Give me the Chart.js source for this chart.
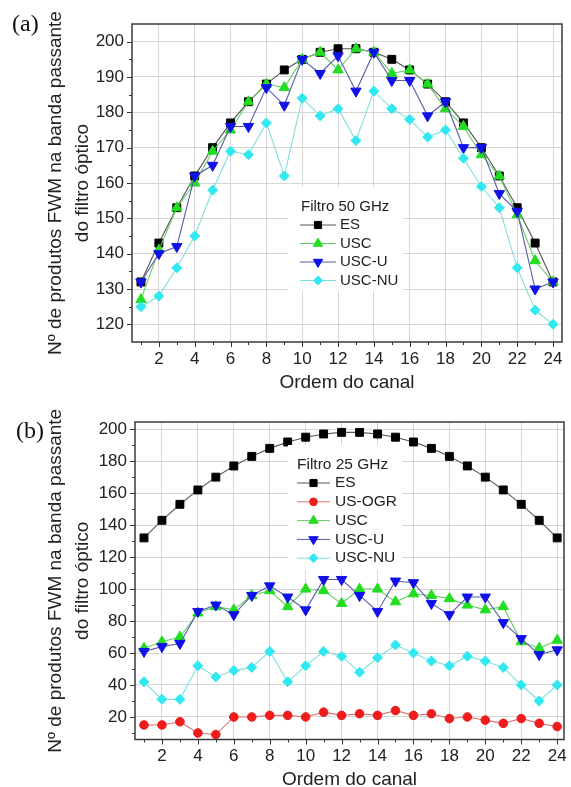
<!DOCTYPE html>
<html>
<head>
<meta charset="utf-8">
<script src="https://cdn.jsdelivr.net/npm/chart.js"></script>
<style>
  body { margin: 0; background: #fff; width: 571px; height: 787px; position: relative; overflow: hidden; }
  canvas { position: absolute; left: 0; }
  #chartA { top: 0; }
  #chartB { top: 400px; }
  .tag { position: absolute; font-family: "Liberation Serif", "Times New Roman", serif; font-size: 24px; color: #111; }
</style>
</head>
<body>
<canvas id="chartA" width="571" height="400"></canvas>
<canvas id="chartB" width="571" height="387"></canvas>
<div class="tag" style="left:12px;top:10px">(a)</div>
<div class="tag" style="left:16px;top:417px">(b)</div>
<script>
// Data
const channels = [1, 2, 3, 4, 5, 6, 7, 8, 9, 10, 11, 12, 13, 14, 15, 16, 17, 18, 19, 20, 21, 22, 23, 24];
const xTickLabels = [2, 4, 6, 8, 10, 12, 14, 16, 18, 20, 22, 24];
const yTicksA = [120, 130, 140, 150, 160, 170, 180, 190, 200];
const yTicksB = [20, 40, 60, 80, 100, 120, 140, 160, 180, 200];

// (a) Filtro 50 GHz
const esA = [132, 143, 153, 162, 170, 177, 183, 188, 192, 195, 197, 198, 198, 197, 195, 192, 188, 183, 177, 170, 162, 153, 143, 132];
const uscA = [127, 141, 153, 160, 169, 175, 183, 188, 187, 195, 197, 192, 198, 197, 191, 192, 188, 181, 176, 168, 162, 151, 138, 132];
const uscUA = [132, 140, 142, 162, 165, 176, 176, 187, 182, 195, 191, 196, 186, 197, 189, 189, 179, 183, 170, 170, 157, 152, 130, 132];
const uscNUA = [125, 128, 136, 145, 158, 169, 168, 177, 162, 184, 179, 181, 172, 186, 181, 178, 173, 175, 167, 159, 153, 136, 124, 120];

// (b) Filtro 25 GHz
const esB = [132, 143, 153, 162, 170, 177, 183, 188, 192, 195, 197, 198, 198, 197, 195, 192, 188, 183, 177, 170, 162, 153, 143, 132];
const usOgrB = [15, 15, 17, 10, 9, 20, 20, 21, 21, 20, 23, 21, 22, 21, 24, 21, 22, 19, 20, 18, 16, 19, 16, 14];
const uscB = [63, 67, 70, 85, 89, 87, 96, 99, 89, 100, 99, 91, 100, 100, 92, 97, 96, 94, 90, 87, 89, 67, 63, 68];
const uscUB = [61, 64, 66, 86, 90, 84, 96, 102, 95, 87, 106, 106, 96, 86, 105, 104, 91, 84, 95, 95, 79, 69, 59, 62];
const uscNUB = [42, 31, 31, 52, 45, 49, 51, 61, 42, 52, 61, 58, 48, 57, 65, 60, 55, 52, 58, 55, 51, 40, 30, 40];

const FONT = '"Liberation Sans", Arial, sans-serif';
const yTitle = ['Nº de produtos FWM na banda passante', 'do filtro óptico'];

const styles = {
  'ES':     { line: '#555555', mark: '#000000', pointStyle: 'rect', radius: 5.6, rotation: 0 },
  'US-OGR': { line: '#e07070', mark: '#ee1c1c', pointStyle: 'circle', radius: 4.3, rotation: 0 },
  'USC':    { line: '#66cc66', mark: '#22dd22', pointStyle: 'triangle', radius: 6, rotation: 0 },
  'USC-U':  { line: '#5a5aa8', mark: '#1010e8', pointStyle: 'triangle', radius: 6, rotation: 180 },
  'USC-NU': { line: '#80dede', mark: '#30e8f0', pointStyle: 'rectRot', radius: 5, rotation: 0 }
};

function series(label, values, order) {
  const s = styles[label];
  return {
    label: label,
    data: channels.map((c, i) => ({ x: c, y: values[i] })),
    borderColor: s.line,
    borderWidth: 1.1,
    pointStyle: s.pointStyle,
    pointRadius: s.radius,
    pointRotation: s.rotation,
    pointBackgroundColor: s.mark,
    pointBorderColor: s.mark,
    pointBorderWidth: 1,
    tension: 0,
    order: order
  };
}

// minor ticks, frame
const axisDecor = {
  id: 'axisDecor',
  afterDraw(chart, args, o) {
    const { ctx, chartArea: a, scales: { x, y } } = chart;
    ctx.save();
    ctx.strokeStyle = '#333';
    ctx.lineWidth = 1;
    ctx.beginPath();
    x.ticks.forEach(t => {
      const p = Math.round(x.getPixelForValue(t.value)) + 0.5;
      ctx.moveTo(p, a.bottom); ctx.lineTo(p, a.bottom + 5);
    });
    o.xMinor.forEach(v => {
      const p = Math.round(x.getPixelForValue(v)) + 0.5;
      ctx.moveTo(p, a.bottom); ctx.lineTo(p, a.bottom + 3);
    });
    y.ticks.forEach(t => {
      const p = Math.round(y.getPixelForValue(t.value)) + 0.5;
      ctx.moveTo(a.left, p); ctx.lineTo(a.left - 5, p);
    });
    o.yMinor.forEach(v => {
      const p = Math.round(y.getPixelForValue(v)) + 0.5;
      ctx.moveTo(a.left, p); ctx.lineTo(a.left - 3, p);
    });
    ctx.stroke();
    ctx.strokeStyle = '#3a3a3a';
    ctx.lineWidth = 1.5;
    ctx.strokeRect(a.left, a.top, a.right - a.left, a.bottom - a.top);
    ctx.restore();
  }
};

// legend inside plot
const insetLegend = {
  id: 'insetLegend',
  afterDatasetsDraw(chart, args, o) {
    const ctx = chart.ctx;
    ctx.save();
    ctx.fillStyle = '#fff';
    ctx.fillRect(o.box[0], o.box[1], o.box[2], o.box[3]);
    ctx.font = o.fontSize + 'px ' + FONT;
    ctx.textBaseline = 'middle';
    ctx.textAlign = 'left';
    ctx.fillStyle = '#222';
    ctx.fillText(o.title, o.titleX, o.titleY);
    chart.data.datasets.forEach((ds, i) => {
      const yy = o.firstY + i * o.step;
      ctx.strokeStyle = ds.borderColor;
      ctx.lineWidth = 1;
      ctx.beginPath();
      ctx.moveTo(o.lineX0, yy);
      ctx.lineTo(o.lineX1, yy);
      ctx.stroke();
      ctx.fillStyle = ds.pointBackgroundColor;
      ctx.strokeStyle = ds.pointBorderColor;
      Chart.helpers.drawPoint(ctx, {
        pointStyle: ds.pointStyle, radius: ds.pointRadius * 0.9, rotation: ds.pointRotation, borderWidth: 1
      }, (o.lineX0 + o.lineX1) / 2, yy);
      ctx.fillStyle = '#222';
      ctx.fillText(ds.label, o.textX, yy);
    });
    ctx.restore();
  }
};

function midpoints(ticks, lo, hi) {
  const out = [];
  for (let i = 0; i < ticks.length - 1; i++) out.push((ticks[i] + ticks[i + 1]) / 2);
  const step = ticks[1] - ticks[0];
  if (ticks[0] - step / 2 > lo) out.unshift(ticks[0] - step / 2);
  if (ticks[ticks.length - 1] + step / 2 < hi) out.push(ticks[ticks.length - 1] + step / 2);
  return out;
}

function makeChart(id, datasets, cfg) {
  return new Chart(document.getElementById(id), {
    type: 'line',
    data: { datasets: datasets },
    plugins: [insetLegend, axisDecor],
    options: {
      responsive: false,
      animation: false,
      devicePixelRatio: 1,
      layout: { padding: { top: cfg.top, right: cfg.right, left: 0, bottom: 0 } },
      plugins: {
        legend: { display: false },
        tooltip: { enabled: false },
        insetLegend: cfg.legend,
        axisDecor: {
          xMinor: channels.filter(c => !xTickLabels.includes(c)),
          yMinor: midpoints(cfg.yTicks, cfg.yMin, cfg.yMax)
        }
      },
      scales: {
        x: {
          type: 'linear',
          min: 0.5,
          max: cfg.xMax,
          afterBuildTicks: s => { s.ticks = xTickLabels.map(v => ({ value: v })); },
          afterFit: s => { s.height = cfg.xHeight; s.paddingLeft = 0; s.paddingRight = 0; },
          grid: { color: '#d6d6d6', lineWidth: 1, drawTicks: false },
          border: { display: false },
          ticks: { padding: 7, color: '#222', font: { family: FONT, size: 17 }, maxRotation: 0, autoSkip: false },
          title: {
            display: true, text: 'Ordem do canal', color: '#222',
            font: { family: FONT, size: 19, lineHeight: cfg.xTitleLH },
            padding: { top: 0, bottom: cfg.xTitlePad }
          }
        },
        y: {
          min: cfg.yMin,
          max: cfg.yMax,
          afterBuildTicks: s => { s.ticks = cfg.yTicks.map(v => ({ value: v })); },
          afterFit: s => { s.width = cfg.yWidth; s.paddingTop = 0; s.paddingBottom = 0; },
          grid: { color: '#d6d6d6', lineWidth: 1, drawTicks: false },
          border: { display: false },
          ticks: { padding: 8, color: '#222', font: { family: FONT, size: 17 } },
          title: {
            display: true, text: yTitle, color: '#222',
            font: { family: FONT, size: 19, lineHeight: 1.42 },
            padding: { top: 42, bottom: 0 }
          }
        }
      }
    }
  });
}

makeChart('chartA', [
  series('ES', esA, 4),
  series('USC', uscA, 3),
  series('USC-U', uscUA, 2),
  series('USC-NU', uscNUA, 1)
], {
  top: 24, right: 9, yWidth: 132, xHeight: 58, xMax: 24.5,
  yMin: 115, yMax: 205, yTicks: yTicksA, xTitleLH: 1, xTitlePad: 7.5,
  legend: {
    box: [288, 187, 115, 104], fontSize: 15, title: 'Filtro 50 GHz', titleX: 301, titleY: 207,
    firstY: 225, step: 18.5, lineX0: 300, lineX1: 336, textX: 340
  }
});

makeChart('chartB', [
  series('ES', esB, 5),
  series('US-OGR', usOgrB, 4),
  series('USC', uscB, 3),
  series('USC-U', uscUB, 2),
  series('USC-NU', uscNUB, 1)
], {
  top: 22, right: 4, yWidth: 135, xHeight: 47.5, xMax: 24.38,
  yMin: 5.9, yMax: 204.5, yTicks: yTicksB, xTitleLH: 0.8, xTitlePad: 0,
  legend: {
    box: [288, 45, 114, 125], fontSize: 15.5, title: 'Filtro 25 GHz', titleX: 297, titleY: 65,
    firstY: 83, step: 18.8, lineX0: 297, lineX1: 330, textX: 335
  }
});
</script>
</body>
</html>
